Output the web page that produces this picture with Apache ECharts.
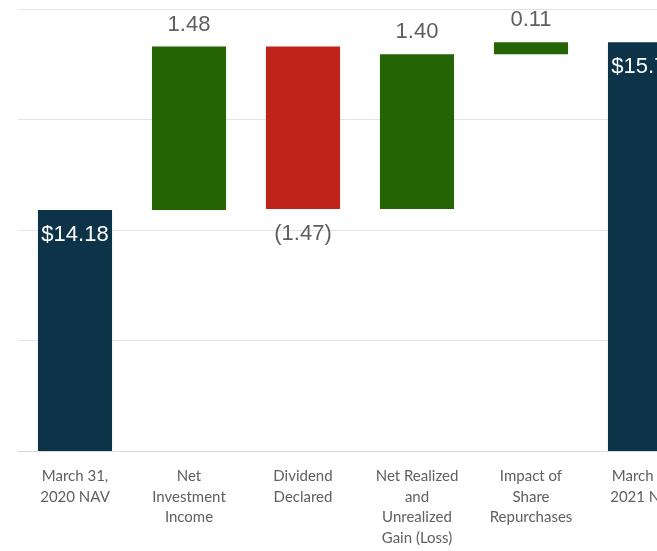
<!DOCTYPE html>
<html><head><meta charset="utf-8">
<script src="https://cdn.jsdelivr.net/npm/echarts@6/dist/echarts.min.js"></script>
<style>html,body{margin:0;padding:0;background:#fff;overflow:hidden;width:657px;height:551px}#c{width:760px;height:551px}</style>
</head><body><div id="c"></div>
<script>
const categories = ["March 31,\n2020 NAV", "Net\nInvestment\nIncome", "Dividend\nDeclared", "Net Realized\nand\nUnrealized\nGain (Loss)", "Impact of\nShare\nRepurchases", "March 31,\n2021 NAV"];
const baseValues = [0, 14.18, 14.19, 14.19, 15.59, 0];
const barValues = [14.18, 1.48, 1.47, 1.40, 0.11, 15.70];
const valueLabels = ["$14.18", "1.48", "(1.47)", "1.40", "0.11", "$15.70"];
const barKinds = ["total", "up", "down", "up", "up", "total"];
const yTicks = [12, 13, 14, 15, 16];

const colors = {total: "#0d3349", up: "#246405", down: "#c0231a"};
const labelPos = {total: "insideTop", up: "top", down: "bottom"};
const labelDist = {total: 14, up: 11, down: 14};

const chart = echarts.init(document.getElementById('c'), null, {renderer: 'canvas'});
chart.setOption({
  animation: false,
  grid: {left: 18, width: 684, top: 9, height: 442, containLabel: false, outerBoundsMode: 'none'},
  xAxis: {
    type: 'category', data: categories,
    axisLine: {show: true, lineStyle: {color: '#d9d9d9', width: 1}},
    axisTick: {show: false},
    axisLabel: {color: '#606060', fontFamily: 'Lato', fontSize: 15, lineHeight: 20.5, margin: 15, interval: 0}
  },
  yAxis: {
    type: 'value', min: yTicks[0], max: yTicks[yTicks.length - 1], interval: 1,
    axisLabel: {show: false}, axisLine: {show: false}, axisTick: {show: false},
    splitLine: {lineStyle: {color: '#e3e3e3', width: 1}}
  },
  series: [
    {type: 'bar', stack: 'w', data: baseValues, itemStyle: {color: 'transparent'}, barCategoryGap: '35%', silent: true},
    {type: 'bar', stack: 'w', barCategoryGap: '35%',
     data: barValues.map((v, i) => ({
       value: v,
       itemStyle: {color: colors[barKinds[i]]},
       label: {
         show: true, position: labelPos[barKinds[i]],
         distance: labelDist[barKinds[i]],
         formatter: valueLabels[i],
         color: barKinds[i] === 'total' ? '#ffffff' : '#5f5f5f',
         fontFamily: 'Liberation Sans', fontSize: 22
       }
     }))
    }
  ]
});
</script></body></html>
